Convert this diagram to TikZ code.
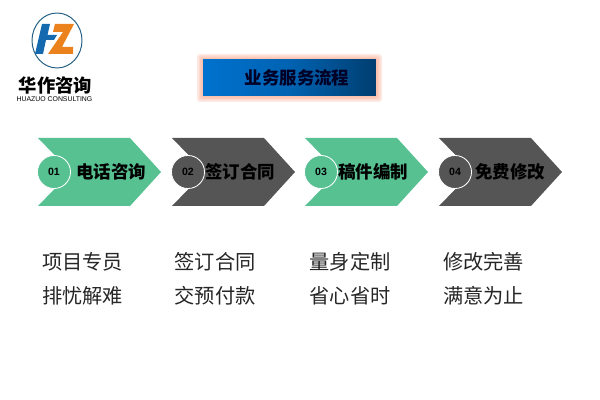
\documentclass[tikz,border=0pt]{standalone}
\usepackage{fontspec}
\setmainfont{Noto Sans CJK SC}
\newfontfamily\latinfont{Liberation Sans}
\definecolor{ArrGreen}{RGB}{87,193,146}
\definecolor{ArrGray} {RGB}{85,85,85}
\definecolor{LogoBlue}{RGB}{20,105,175}
\definecolor{LogoOrng}{RGB}{235,130,30}
\definecolor{LogoLine}{RGB}{35,95,130}
\definecolor{HdrLeft} {RGB}{0,114,206}
\definecolor{HdrRight}{RGB}{0,62,112}
\definecolor{HdrGlow} {RGB}{248,150,120}
\tikzset{
  nd_num/.style={circle,draw=white,line width=0.6pt,minimum size=23.5pt,inner sep=0pt},
  nd_numtxt/.style={inner sep=0pt,font=\latinfont\fontsize{7.5}{8}\selectfont\bfseries,text=black},
  nd_step/.style={font=\fontsize{12.4}{14}\selectfont\bfseries,text=black,inner sep=0pt},
  nd_note/.style={font=\fontsize{14.4}{24.2}\selectfont,align=center,text=black!85,inner sep=0pt},
  nd_hdr/.style={minimum width=123pt,minimum height=25.6pt,inner sep=0pt,left color=HdrLeft,right color=HdrRight,middle color=HdrLeft!70!HdrRight},
}
% one arrow: left edge, fill colour, name, number
\newcommand{\steparrow}[4]{%
  \fill[#2] (#1,138) -- (#1+92,138) -- (#1+123,172) -- (#1+92,206) -- (#1,206) -- (#1+33,172) -- cycle;
  \node[nd_num,fill=#2] at (#1+16,172) (#3) {};
  \node[nd_numtxt] at (#3) {#4};}
\begin{document}
\begin{tikzpicture}[x=0.025cm,y=-0.025cm]
\useasboundingbox (0,0) rectangle (600,400);
% logo
\draw[LogoLine,line width=0.7pt] (57,40.5) ellipse (25 and 27.5);
\fill[LogoBlue] (42,24) -- (50,24) -- (47.5,35) -- (57,35) -- (54,40) -- (46,40) -- (43,54) -- (35,54) -- cycle;
\fill[LogoOrng] (55,24) -- (74,24) -- (62,47) -- (73,47) -- (73,54) -- (48,54) -- (63,32) -- (53,32) -- cycle;
\node[font=\fontsize{13}{14}\selectfont\bfseries,inner sep=0pt] at (55.5,85) (LogoCn) {华作咨询};
\node[font=\latinfont\fontsize{4.9}{6}\selectfont,inner sep=0pt] at (54.5,99) (LogoEn) {HUAZUO CONSULTING};
% header
\foreach \g in {6,4.5,3,1.5}{
  \fill[HdrGlow,opacity=0.2,rounded corners=2pt] (203-\g,60-\g) rectangle (376+\g,96+\g);}
\node[nd_hdr] at (289.5,78) (Hdr) {};
\node[font=\fontsize{12.4}{14}\selectfont\bfseries,text=black!85!blue,inner sep=0pt] at (297,78) (HdrTxt) {业务服务流程};
% arrows
\steparrow{38}{ArrGreen}{N1}{01}
\steparrow{172}{ArrGray}{N2}{02}
\steparrow{305}{ArrGreen}{N3}{03}
\steparrow{439}{ArrGray}{N4}{04}
\node[nd_step] at (111,172) (S1) {电话咨询};
\node[nd_step] at (240,172) (S2) {签订合同};
\node[nd_step] at (373,172) (S3) {稿件编制};
\node[nd_step] at (510,172) (S4) {免费修改};
% notes
\node[nd_note] at (82.5,279) (T1) {项目专员\\排忧解难};
\node[nd_note] at (215,279) (T2) {签订合同\\交预付款};
\node[nd_note] at (350,279) (T3) {量身定制\\省心省时};
\node[nd_note] at (483.5,279) (T4) {修改完善\\满意为止};
\end{tikzpicture}
\end{document}
